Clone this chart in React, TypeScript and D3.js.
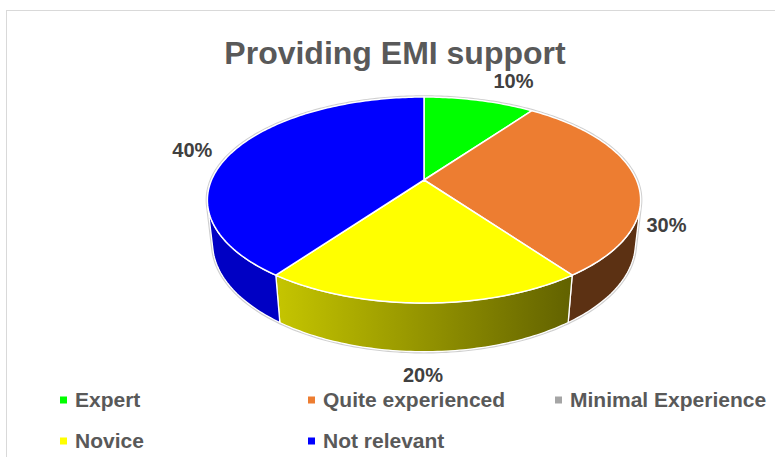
import React from 'react';
import * as d3 from 'd3';

// ---- data ----
const categories = ['Expert', 'Quite experienced', 'Minimal Experience', 'Novice', 'Not relevant'];
const values = [10, 30, 0, 20, 40];
const sliceColors = ['#00FF00', '#ED7D31', '#A5A5A5', '#FFFF00', '#0000FF'];
const chartTitle = 'Providing EMI support';
const legendRows = [[0, 1, 2], [3, 4]];

// ---- layout ----
const W = 775, H = 457;
const CX = 424, CY = 180;
const F = 966.8, DIST = 4.55, SIN_A = 0.4665, COS_A = Math.sqrt(1 - SIN_A * SIN_A), DEPTH = 0.2303;
const labelNudge: Record<number, [number, number]> = { 0: [34, -12], 1: [30, 52], 3: [-1, 79], 4: [-41, 6] };
const legendCols = [60, 308, 555];
const legendRowY = [400, 441];
const FONT = '"Liberation Sans", Arial, sans-serif';

function proj(theta: number, r: number, y: number): [number, number] {
  const x = r * Math.sin(theta), z = r * Math.cos(theta);
  const yc = y * COS_A + z * SIN_A;
  const zc = DIST + z * COS_A - y * SIN_A;
  return [CX + (F * x) / zc, CY - (F * yc) / zc];
}

function rim(a0: number, a1: number, y: number): [number, number][] {
  const n = Math.max(2, Math.ceil(Math.abs(a1 - a0) / (Math.PI / 180)));
  return d3.range(n + 1).map((i) => proj(a0 + ((a1 - a0) * i) / n, 1, y));
}

function shade(c: string, b: number) {
  const col = d3.rgb(c);
  return d3.rgb(col.r * b, col.g * b, col.b * b).formatHex();
}

export default function App() {
  const arcs = d3.pie<number>().sort(null).value((d) => d)(values);
  const total = d3.sum(values);
  const pct = d3.format('.0%');
  const line = d3.line();
  const vis1 = Math.acos(-1 / (DIST * COS_A));
  const vis2 = 2 * Math.PI - vis1;
  const gL = proj(1.2 * Math.PI, 1, -DEPTH)[0];
  const gR = proj(0.8 * Math.PI, 1, -DEPTH)[0];

  const outline = line([...rim(vis2, 2 * Math.PI + vis1, 0), ...rim(vis1, vis2, -DEPTH)]) + 'Z';

  return (
    <svg width={W} height={H} style={{ position: 'absolute', left: 0, top: 0 }}>
      <rect x={0} y={0} width={W} height={H} fill="#fff" />
      <rect x={6.5} y={10.5} width={800} height={500} fill="#fff" stroke="#d9d9d9" strokeWidth={1} />
      <defs>
        {arcs.map((a, i) => (
          <linearGradient key={i} id={`wall${i}`} gradientUnits="userSpaceOnUse" x1={gL} x2={gR} y1={0} y2={0}>
            <stop offset="0" stopColor={shade(sliceColors[i], 0.77)} />
            <stop offset="1" stopColor={shade(sliceColors[i], 0.39)} />
          </linearGradient>
        ))}
      </defs>
      <text x={395} y={64} textAnchor="middle" fontFamily={FONT} fontWeight="bold" fontSize={32} fill="#595959">
        {chartTitle}
      </text>
      <path d={outline} fill="none" stroke="#cfcfcf" strokeWidth={3.5} strokeLinejoin="round" />
      {arcs.map((a, i) => {
        if (a.value <= 0) return null;
        const a0 = Math.max(a.startAngle, vis1), a1 = Math.min(a.endAngle, vis2);
        if (a1 <= a0) return null;
        const d = line([...rim(a0, a1, 0), ...rim(a1, a0, -DEPTH)]) + 'Z';
        return <path key={`w${i}`} d={d} fill={`url(#wall${i})`} stroke="#fff" strokeWidth={1.3} strokeLinejoin="round" />;
      })}
      {arcs.map((a, i) => {
        if (a.value <= 0) return null;
        const d = line([proj(0, 0, 0), ...rim(a.startAngle, a.endAngle, 0)]) + 'Z';
        return <path key={`t${i}`} d={d} fill={sliceColors[i]} stroke="#fff" strokeWidth={1.5} strokeLinejoin="round" />;
      })}
      {arcs.map((a, i) => {
        if (a.value <= 0) return null;
        const mid = (a.startAngle + a.endAngle) / 2;
        const [px, py] = proj(mid, 1, 0);
        const [dx, dy] = labelNudge[i] || [0, 0];
        return (
          <text key={`l${i}`} x={px + dx} y={py + dy} textAnchor="middle" fontFamily={FONT} fontWeight="bold" fontSize={20} fill="#404040">
            {pct(a.value / total)}
          </text>
        );
      })}
      {legendRows.map((row, r) =>
        row.map((ci, c) => (
          <g key={`lg${ci}`} transform={`translate(${legendCols[c]},${legendRowY[r]})`}>
            <rect x={0} y={-3.5} width={7} height={7} fill={sliceColors[ci]} />
            <text x={15} y={7} fontFamily={FONT} fontWeight="bold" fontSize={21} fill="#595959">
              {categories[ci]}
            </text>
          </g>
        ))
      )}
    </svg>
  );
}
